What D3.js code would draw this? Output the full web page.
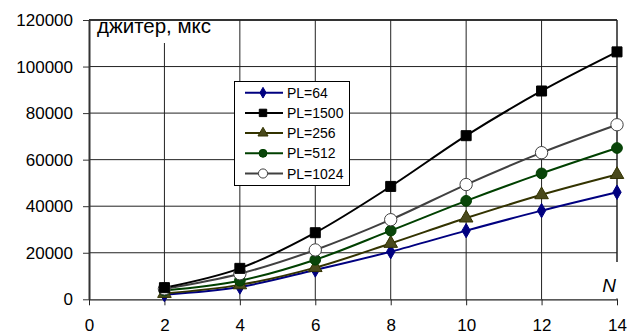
<!DOCTYPE html>
<html><head><meta charset="utf-8">
<script src="https://cdn.jsdelivr.net/npm/d3@7/dist/d3.min.js"></script>
<style>body{margin:0;background:#fff}svg{display:block;font-family:Arial,"Liberation Sans",sans-serif}</style>
</head><body><svg id="c" width="631" height="334"></svg>
<script>
const nValues = [2, 4, 6, 8, 10, 12, 14];
const xTicks = [0, 2, 4, 6, 8, 10, 12, 14];
const yTicks = [0, 20000, 40000, 60000, 80000, 100000, 120000];
const seriesNames = ["PL=64", "PL=1500", "PL=256", "PL=512", "PL=1024"];
const pl64   = [2000, 5300, 12600, 20450, 29500, 38100, 46000];
const pl1500 = [5000, 13300, 28600, 48500, 70300, 89500, 106300];
const pl256  = [2500, 6200, 13600, 24000, 34900, 44900, 53600];
const pl512  = [3800, 8000, 17000, 29500, 42300, 54100, 65000];
const pl1024 = [4500, 11000, 21200, 34200, 49300, 63000, 75000];
const yLabel = "джитер, мкс";
const xLabel = "N";

const svg = d3.select("#c");
const x = d3.scaleLinear().domain([0, 14]).range([89, 617]);
const y = d3.scaleLinear().domain([0, 120000]).range([299.3, 20]);
const FONT = "Arial, 'Liberation Sans', sans-serif";

const styles = [
  {color:"#000080", fill:"#000080", sym:"diamond", size:60},
  {color:"#000000", fill:"#000000", sym:"square", size:100},
  {color:"#333300", fill:"#4a4a1c", sym:"triangle", size:80},
  {color:"#004000", fill:"#0a450a", sym:"circle", size:90},
  {color:"#404040", fill:"#ffffff", sym:"circle", size:120}
];
const data = [pl64, pl1500, pl256, pl512, pl1024];

// grid
const g = svg.append("g");
g.selectAll("line.h").data(yTicks.slice(1)).join("line")
  .attr("x1", x(0)).attr("x2", x(14)).attr("y1", d=>y(d)).attr("y2", d=>y(d))
  .attr("stroke", d=> d===120000 ? "#333" : "#222").attr("stroke-width", d=> d===120000 ? 2 : 1);
g.selectAll("line.v").data(xTicks.slice(1)).join("line")
  .attr("x1", d=>x(d)).attr("x2", d=>x(d)).attr("y1", y(0)).attr("y2", y(120000))
  .attr("stroke", "#222").attr("stroke-width", d=> d===14 ? 1.5 : 1);

// axes
const yAxis = d3.axisLeft(y).tickValues(yTicks).tickSize(6).tickSizeOuter(0).tickFormat(d3.format("d"));
const ya = svg.append("g").attr("transform", `translate(${x(0)},0)`).call(yAxis);
ya.select(".domain").attr("stroke", "#333").attr("stroke-width", 2);
ya.selectAll(".tick line").attr("stroke", "#333");
ya.selectAll("text").attr("font-size", 17).attr("fill", "#000").attr("x", -16).attr("font-family", FONT);

const xAxis = d3.axisBottom(x).tickValues(xTicks).tickSize(6).tickSizeOuter(0);
const xa = svg.append("g").attr("transform", `translate(0,${y(0)})`).call(xAxis);
xa.select(".domain").attr("stroke", "#222").attr("stroke-width", 1.2);
xa.selectAll(".tick line").attr("stroke", "#222");
xa.selectAll("text").attr("font-size", 17).attr("fill", "#000").attr("y", 20).attr("dy", "0.71em").attr("font-family", FONT);

// label boxes
svg.append("rect").attr("x", 91).attr("y", 21).attr("width", 124).attr("height", 22).attr("fill", "#fff");
svg.append("text").attr("x", 97).attr("y", 33).attr("font-size", 20.5).text(yLabel);
svg.append("rect").attr("x", 597).attr("y", 262).attr("width", 34).attr("height", 36.5).attr("fill", "#fff");
svg.append("text").attr("x", 609).attr("y", 292).attr("font-size", 19).attr("font-style", "italic").attr("text-anchor", "middle").text(xLabel);

// lines
const line = d3.line().x((d,i)=>x(nValues[i])).y(d=>y(d)).curve(d3.curveCardinal.tension(0));
const symMap = {diamond: d3.symbolDiamond, square: d3.symbolSquare, triangle: d3.symbolTriangle, circle: d3.symbolCircle};
const order = [0, 2, 3, 4, 1];
order.forEach(k => {
  const st = styles[k];
  svg.append("path").datum(data[k]).attr("d", line).attr("fill", "none")
    .attr("stroke", st.color).attr("stroke-width", 2);
});
order.forEach(k => {
  const st = styles[k];
  svg.append("g").selectAll("path").data(data[k]).join("path")
    .attr("transform", (d,i)=>`translate(${x(nValues[i])},${y(d)})`)
    .attr("d", d3.symbol().type(symMap[st.sym]).size(st.size))
    .attr("fill", st.fill).attr("stroke", st.sym==="triangle" ? "#333300" : st.color).attr("stroke-width", 1);
});

// legend
const lg = svg.append("g");
lg.append("rect").attr("x", 234.5).attr("y", 81.5).attr("width", 115).attr("height", 104)
  .attr("fill", "#fff").attr("stroke", "#000").attr("stroke-width", 1);
seriesNames.forEach((name, k) => {
  const st = styles[k];
  const yy = 92.7 + k * 20.2;
  lg.append("line").attr("x1", 245).attr("x2", 283).attr("y1", yy).attr("y2", yy)
    .attr("stroke", st.color).attr("stroke-width", 2);
  lg.append("path").attr("transform", `translate(263,${yy})`)
    .attr("d", d3.symbol().type(symMap[st.sym]).size(st.size*0.55))
    .attr("fill", st.fill).attr("stroke", st.sym==="triangle" ? "#333300" : st.color).attr("stroke-width", 1);
  lg.append("text").attr("x", 287).attr("y", yy).attr("dy", "0.36em").attr("font-size", 14).text(name);
});
</script></body></html>
